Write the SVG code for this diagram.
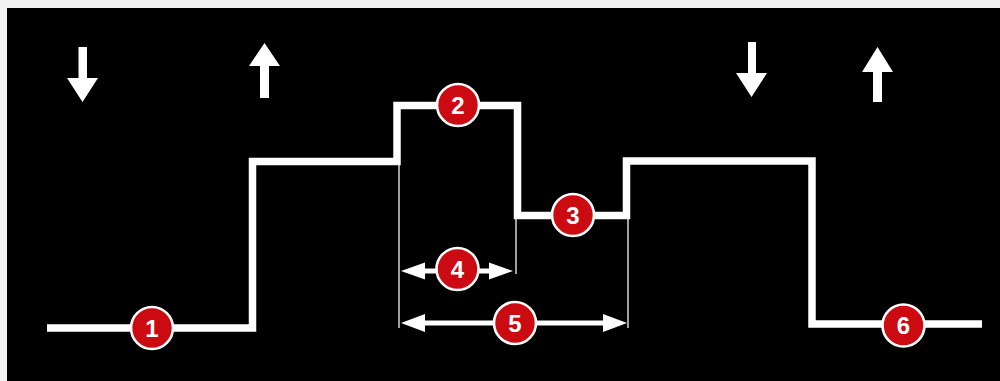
<svg xmlns="http://www.w3.org/2000/svg" width="1000" height="381" viewBox="0 0 1000 381">
  <defs>
    <style>
      .wave { fill: none; stroke: #ffffff; stroke-width: 7.5; stroke-linejoin: miter; stroke-linecap: butt; }
      .ext { fill: none; stroke: #e6e6e6; stroke-width: 1.4; }
      .dim { fill: none; stroke: #ffffff; stroke-width: 5; }
      .head { fill: #ffffff; }
      .badge circle { fill: #cc0a12; stroke: #ffffff; stroke-width: 2.6; }
      .badge text { fill: #ffffff; font-family: "Liberation Sans", Arial, sans-serif; font-weight: bold; font-size: 24px; text-anchor: middle; }
      .dir { fill: #ffffff; }
    </style>
  </defs>

  <!-- canvas -->
  <rect x="0" y="0" width="1000" height="381" fill="#f2f2f2"/>
  <rect x="7" y="8" width="993" height="373" fill="#000000"/>

  <!-- step waveform, extension lines and dimension arrows -->
  <g id="connectors">
    <path class="wave" d="M47,328 H252.5 V161.5 H397 V105.5 H517.5 V215.5 H626.5 V161 H812 V324 H982"/>

    <line class="ext" x1="399" y1="165" x2="399" y2="328"/>
    <line class="ext" x1="516" y1="219" x2="516" y2="274"/>
    <line class="ext" x1="628" y1="219" x2="628" y2="328"/>

    <!-- dimension 4 -->
    <line class="dim" x1="420" y1="271" x2="494" y2="271"/>
    <polygon class="head" points="401,271 425,262.5 425,279.5"/>
    <polygon class="head" points="513,271 489,262.5 489,279.5"/>

    <!-- dimension 5 -->
    <line class="dim" x1="420" y1="323" x2="608" y2="323"/>
    <polygon class="head" points="401,323 425,314 425,332"/>
    <polygon class="head" points="627,323 603,314 603,332"/>
  </g>

  <!-- direction arrows -->
  <g id="arrow-down-1"><polygon class="dir" points="78.5,47 87,47 87,78 98,78 82.5,102 67,78 78.5,78"/></g>
  <g id="arrow-up-1"><polygon class="dir" points="260,98 269,98 269,66 280,66 264.5,43 249,66 260,66"/></g>
  <g id="arrow-down-2"><polygon class="dir" points="748,42 756,42 756,73 767,73 751.5,97 736,73 748,73"/></g>
  <g id="arrow-up-2"><polygon class="dir" points="873,102 882,102 882,72 893,72 877.5,47 862,72 873,72"/></g>

  <!-- numbered markers -->
  <g id="badge-1" class="badge"><circle cx="152" cy="328" r="21"/><text x="152" y="336.5">1</text></g>
  <g id="badge-2" class="badge"><circle cx="458" cy="105" r="21"/><text x="458" y="113.5">2</text></g>
  <g id="badge-3" class="badge"><circle cx="573" cy="215" r="21"/><text x="573" y="223.5">3</text></g>
  <g id="badge-4" class="badge"><circle cx="457.5" cy="269" r="21"/><text x="457.5" y="277.5">4</text></g>
  <g id="badge-5" class="badge"><circle cx="515" cy="323" r="21"/><text x="515" y="331.5">5</text></g>
  <g id="badge-6" class="badge"><circle cx="903.5" cy="325.5" r="21"/><text x="903.5" y="334">6</text></g>
</svg>
